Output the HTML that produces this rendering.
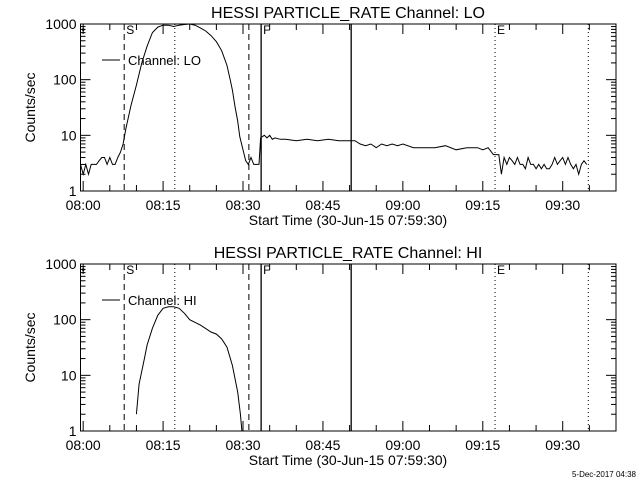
<!DOCTYPE html>
<html><head><meta charset="utf-8"><style>
body{margin:0;background:#fff;width:640px;height:480px;overflow:hidden}
svg text{font-family:"Liberation Sans",sans-serif;fill:#000}
</style></head><body>
<svg id="s" width="640" height="480" xmlns="http://www.w3.org/2000/svg"></svg>
<script>
// time in minutes after 08:00
const loTimes=[-0.5,0,0.5,1,1.5,2,2.5,3,3.5,4,4.5,5,5.5,6,6.5,7,7.5,8,9,10,11,12,13,14,15,16,17,18,19,20,21,22,23,24,25,26,27,27.6,28,28.5,29,29.4,30,30.5,31,31.5,32,32.5,33,33.3,34,34.5,35,35.5,36,37,38,40,42,44,46,48,50,51,52,53,54,55,56,57,58,59,60,62,64,66,68,70,72,74,75,76,77,77.5,78,78.5,79,79.5,80,80.5,81,81.5,82,82.5,83,83.5,84,84.5,85,85.5,86,86.5,87,87.5,88,88.5,89,89.5,90,90.5,91,91.5,92,92.5,93,93.5,94,94.5];
const loValues=[3,2,3,2,3,3,3,3.5,4,4,3,4,3,3,4,5,7,13,35,80,200,400,700,880,950,950,900,950,980,1000,950,850,750,620,480,330,180,100,65,33,18,9.4,5.5,3.5,3,4,3,3,3,9,10,9,10,8.5,9,8.5,8.5,8,8.5,8,8.5,8,8,8,7,6.5,7,6,7,6.5,7,6.5,7,6,6,6,6.5,5.5,6,6,5.5,6,4.5,4.5,4.5,2,4,3,4,3.5,3,4,3,3,2.5,4,3,3,2.5,3,2.5,3,2.5,2.5,3,4,3,3.5,4,3,4,3,2.5,3,2,3,3.5,3,4,3];
const hiTimes=[10,10.5,11.5,12,13,14,15,16,17,18,19,20,22,24,25,26,27,28,29,29.5,29.8];
const hiValues=[2,7,20,35,70,120,160,170,170,160,130,100,80,60,55,45,32,15,5,2,1];
const xTickLabels=["08:00","08:15","08:30","08:45","09:00","09:15","09:30"];
const yTickLabels=["1","10","100","1000"];
const dashedLines=[7.7,31.1];
const dottedLines=[17.2,77.3,94.8];
const solidLines=[33.4,50.3];
const markerLabels=[["S",7.7],["F",33.4],["E",77.3]];

const svg=document.getElementById('s');
const NS="http://www.w3.org/2000/svg";
function mk(tag,attrs,name,txt){const e=document.createElementNS(NS,tag);for(const k in attrs)e.setAttribute(k,attrs[k]);


if(txt!==undefined)e.textContent=txt;svg.appendChild(e);return e;}
const L=80.5,R=616,T0=-0.5,T1=100;
const xs=t=>L+(t-T0)/(T1-T0)*(R-L);
function panel(top,bot,title,times,vals,chan,pfx){
  const ys=v=>bot-Math.log10(v)/3*(bot-top);
  mk('text',{x:348,y:top-6,'font-size':16,'text-anchor':'middle'},pfx+'-title',title);
  mk('rect',{x:L,y:top,width:R-L,height:bot-top,fill:'none',stroke:'#000','stroke-width':1},pfx+'-axes-frame');
  for(let m=0;m<=95;m+=5){const x=xs(m),len=m%15==0?10:6;
    mk('line',{x1:x,x2:x,y1:bot,y2:bot-len,stroke:'#000'},pfx+'-x-tick');
    mk('line',{x1:x,x2:x,y1:top,y2:top+len,stroke:'#000'},pfx+'-x-tick-top');}
  xTickLabels.forEach((s,i)=>mk('text',{x:xs(i*15),y:bot+19,'font-size':14,'text-anchor':'middle'},pfx+'-x-tick-label',s));
  for(let d=0;d<3;d++)for(let k=1;k<10;k++){const y=ys(k*Math.pow(10,d)),len=k==1?10:5;
    mk('line',{x1:L,x2:L+len,y1:y,y2:y,stroke:'#000'},pfx+'-y-tick');
    mk('line',{x1:R,x2:R-len,y1:y,y2:y,stroke:'#000'},pfx+'-y-tick-right');}
  mk('line',{x1:L,x2:L+10,y1:ys(1000),y2:ys(1000),stroke:'#000'},pfx+'-y-tick');
  yTickLabels.forEach((s,i)=>mk('text',{x:L-4,y:ys(Math.pow(10,i))+5,'font-size':14,'text-anchor':'end'},pfx+'-y-tick-label',s));
  mk('text',{x:35,y:(top+bot)/2,'font-size':14,'text-anchor':'middle',transform:`rotate(-90 35 ${(top+bot)/2})`},pfx+'-y-axis-title','Counts/sec');
  mk('text',{x:348,y:bot+34,'font-size':14,'text-anchor':'middle'},pfx+'-x-axis-title','Start Time (30-Jun-15 07:59:30)');
  dashedLines.forEach(t=>mk('line',{x1:xs(t),x2:xs(t),y1:top,y2:bot,stroke:'#000','stroke-dasharray':'6,4'},pfx+'-dashed-marker'));
  dottedLines.forEach(t=>mk('line',{x1:xs(t),x2:xs(t),y1:top,y2:bot,stroke:'#000','stroke-dasharray':'1,3'},pfx+'-dotted-marker'));
  solidLines.forEach(t=>mk('line',{x1:xs(t),x2:xs(t),y1:top,y2:bot,stroke:'#000','stroke-width':1.3},pfx+'-solid-marker'));
  markerLabels.forEach(m=>mk('text',{x:xs(m[1])+2,y:top+10,'font-size':12},pfx+'-marker-label-'+m[0],m[0]));
  mk('text',{x:L+1,y:top+9,'font-size':10},pfx+'-corner-mark','\u2022');
  mk('line',{x1:102,x2:120,y1:top+36,y2:top+36,stroke:'#000'},pfx+'-legend-line');
  mk('text',{x:128,y:top+41,'font-size':13},pfx+'-legend-label','Channel: '+chan);
  const pts=times.map((t,i)=>xs(t).toFixed(1)+','+ys(Math.max(vals[i],1)).toFixed(1)).join(' ');
  mk('polyline',{points:pts,fill:'none',stroke:'#000','stroke-width':1},pfx+'-series-'+chan.toLowerCase());
}
panel(24,191,'HESSI PARTICLE_RATE Channel: LO',loTimes,loValues,'LO','top');
panel(264,431,'HESSI PARTICLE_RATE Channel: HI',hiTimes,hiValues,'HI','bottom');
mk('text',{x:636,y:477,'font-size':8,'text-anchor':'end'},'timestamp','5-Dec-2017 04:38');
</script>
</body></html>
